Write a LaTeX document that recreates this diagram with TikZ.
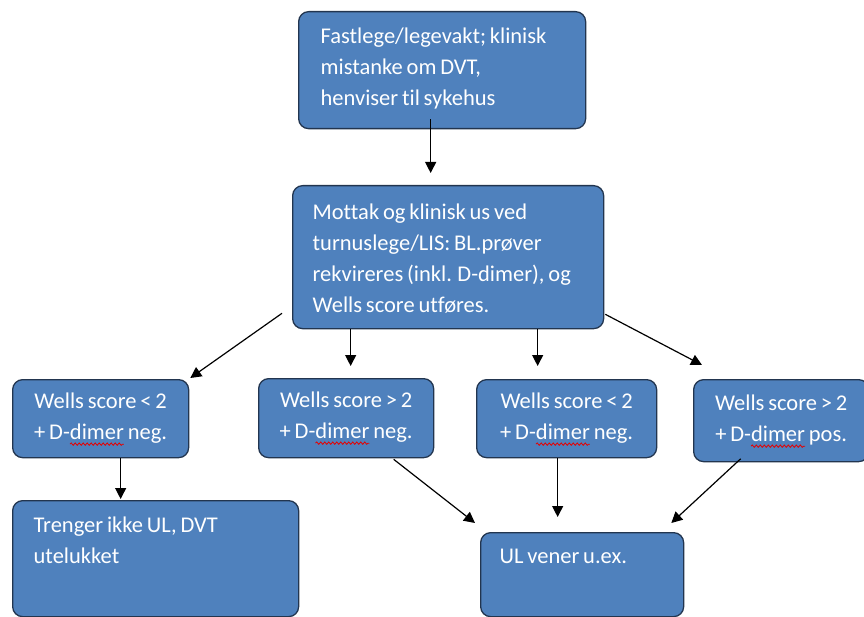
\documentclass[tikz,border=0pt]{standalone}
\usepackage{fontspec}
\setmainfont{Carlito}[Ligatures=NoCommon, WordSpace=0.75]
\usetikzlibrary{arrows.meta,calc,decorations.pathmorphing}
\definecolor{boxblue}{HTML}{4F81BD}
\definecolor{boxline}{HTML}{22354F}
\newsavebox\sqbox
\newcommand\sq[1]{\sbox\sqbox{#1}\rlap{\tikz[overlay]\draw[red!90!black, line width=0.8pt, rounded corners=0pt, decorate, decoration={snake, amplitude=1.2pt, segment length=4pt}] (0pt,-4.5pt) -- (\wd\sqbox,-4.5pt);}\usebox\sqbox}
% #1 left pad, #2 width, #3 height, #4 first baseline offset, #5 text
\newcommand\boxtext[5]{\hspace*{#1}\parbox[t][#3][t]{\dimexpr#2-#1\relax}{\raggedright\rule{0pt}{#4}#5}}
\tikzset{
  box/.style={draw=boxline, line width=1.3pt, fill=boxblue, rounded corners=10pt,
    inner sep=0pt, anchor=north west, text=white, font=\fontsize{22.5pt}{31pt}\selectfont},
  arr/.style={line width=1.2pt, -{Triangle[length=11pt,width=11pt]}}
}
\begin{document}
\begin{tikzpicture}[x=1pt,y=-1pt]
\useasboundingbox (0,0) rectangle (864,617);
\clip (0,0) rectangle (864,617);
\node[box] (top) at (298,11) {\boxtext{22pt}{287pt}{117pt}{32pt}{Fastlege/legevakt; klinisk\\mistanke om DVT,\\henviser til sykehus}};
\node[box] (mid) at (292,185) {\boxtext{20pt}{311pt}{143pt}{34pt}{Mottak og klinisk us ved\\turnuslege/LIS: BL.prøver\\rekvireres (inkl. D-dimer), og\\Wells score utføres.}};
\node[box] (a) at (12,379) {\boxtext{0pt}{176pt}{78pt}{29pt}{\centering Wells score < 2\\+ D-\sq{dimer} neg.}};
\node[box] (b) at (258,378) {\boxtext{0pt}{175pt}{79pt}{29pt}{\centering Wells score > 2\\+ D-\sq{dimer} neg.}};
\node[box] (c) at (476,379) {\boxtext{0pt}{180pt}{78pt}{29pt}{\centering Wells score < 2\\+ D-\sq{dimer} neg.}};
\node[box] (d) at (693,379) {\boxtext{0pt}{175pt}{82pt}{31pt}{\centering Wells score > 2\\+ D-\sq{dimer} pos.}};
\node[box] (e) at (12,500) {\boxtext{21pt}{286pt}{116pt}{32pt}{Trenger ikke UL, DVT\\utelukket}};
\node[box] (f) at (480,532) {\boxtext{19pt}{203pt}{84pt}{31pt}{UL vener u.ex.}};
\draw[arr] ([xshift=-11.5pt,yshift=10pt]top.south) -- ([xshift=-17.5pt,yshift=12pt]mid.north);
\draw[arr] ([xshift=-10pt,yshift=16pt]mid.south west) -- ([xshift=1pt,yshift=1pt]a.north east);
\draw[arr] ([xshift=-97.5pt]mid.south) -- ([xshift=4.5pt,yshift=12pt]b.north);
\draw[arr] ([xshift=89.5pt]mid.south) -- ([xshift=-29pt,yshift=13pt]c.north);
\draw[arr] ([xshift=1pt,yshift=15pt]mid.south east) -- ([xshift=9pt,yshift=14pt]d.north west);
\draw[arr] ([xshift=20pt]a.south) -- ([xshift=-35pt,yshift=1pt]e.north);
\draw[arr] ([xshift=47.5pt,yshift=-1pt]b.south) -- ([xshift=-5pt,yshift=9pt]f.north west);
\draw[arr] ([xshift=-9pt]c.south) -- ([xshift=-24.5pt,yshift=15pt]f.north);
\draw[arr] ([xshift=-40.5pt,yshift=3.5pt]d.south) -- ([xshift=-13pt,yshift=9pt]f.north east);
\end{tikzpicture}
\end{document}
